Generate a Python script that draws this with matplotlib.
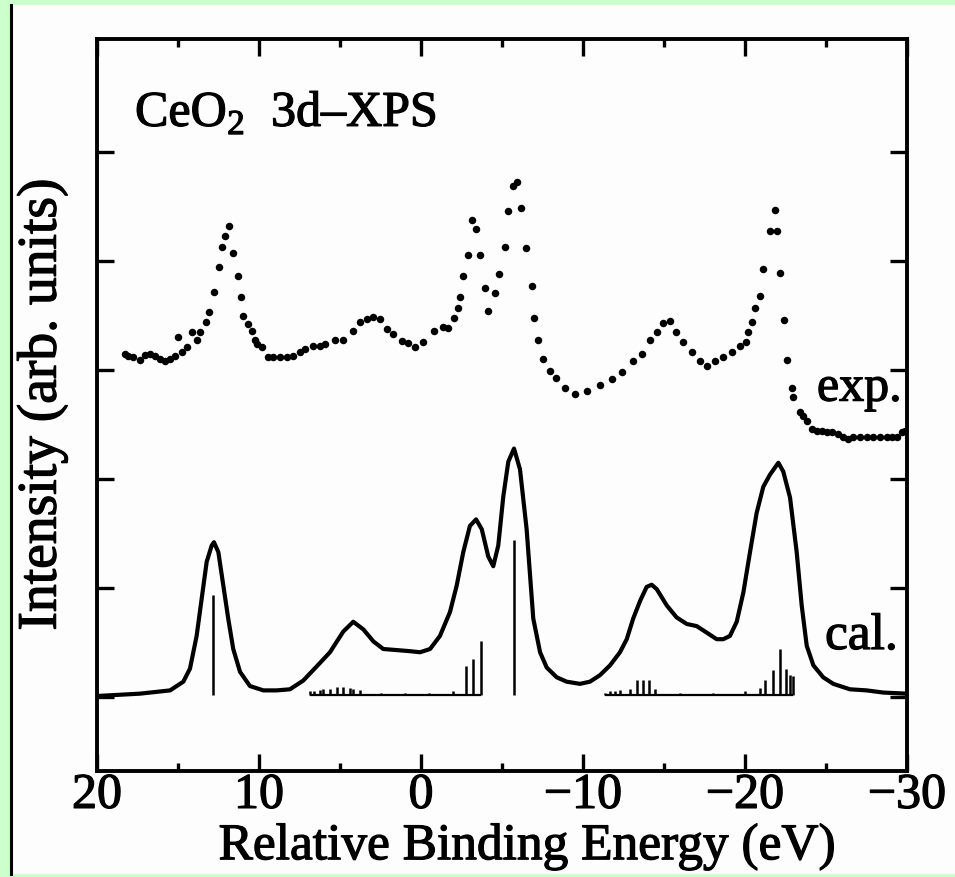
import matplotlib
matplotlib.use('Agg')
import matplotlib.pyplot as plt
import matplotlib.patheffects as pe
from matplotlib.patches import Rectangle
from matplotlib.lines import Line2D
from matplotlib.ticker import MultipleLocator

plt.rcParams['font.family'] = ['Liberation Serif', 'DejaVu Serif']
plt.rcParams['mathtext.fontset'] = 'custom'
plt.rcParams['mathtext.rm'] = 'Liberation Serif'

#%% data (relative binding energy in eV, intensity in arb. units)

exp_ev = [18.27, 18.09, 17.78, 17.35, 17.04, 16.73, 16.42, 16.11, 15.80, 15.49,
          15.19, 15.00, 14.75, 14.44, 14.14, 13.83, 13.64, 13.27, 13.09, 12.78,
          12.47, 12.28, 12.10, 11.85, 11.60, 11.30, 11.11, 10.99, 10.68, 10.43,
          10.25, 10.12, 9.81, 9.44, 9.14, 8.70, 8.27, 7.90, 7.47, 7.16,
          6.67, 6.23, 5.93, 5.31, 4.81, 4.20, 3.77, 3.33, 2.96, 2.53,
          2.10, 1.73, 1.17, 0.80, 0.37, -0.12, -0.80, -1.36, -1.67,
          -2.04, -2.28, -2.41, -2.59, -2.90, -3.15, -3.40, -3.64, -3.95, -4.14,
          -4.57, -4.81, -5.19, -5.37, -5.68, -5.93, -6.17, -6.48, -6.85, -6.98,
          -7.22, -7.53, -7.96, -8.33, -8.89, -9.51, -10.25, -11.05, -11.79, -12.41,
          -13.09, -13.64, -14.14, -14.57, -14.94, -15.37, -15.74, -16.17, -16.73, -17.22,
          -17.65, -18.15, -18.64, -19.20, -19.69, -20.06, -20.19, -20.43, -20.62, -20.93,
          -21.11, -21.54, -21.85, -21.98, -22.16, -22.41, -22.59, -22.90, -22.96, -23.40,
          -23.58, -23.83, -24.14, -24.44, -24.75, -25.06, -25.37, -25.74, -26.05, -26.36,
          -26.67, -27.10, -27.53, -27.90, -28.33, -28.77, -29.07, -29.38, -29.69, -29.88]
exp_int = [3.15, 3.13, 3.12, 3.09, 3.14, 3.15, 3.13, 3.10, 3.08, 3.10,
           3.13, 3.30, 3.17, 3.21, 3.35, 3.28, 3.35, 3.44, 3.53, 3.72,
           3.95, 4.13, 4.23, 4.32, 4.08, 3.86, 3.67, 3.50, 3.42, 3.36,
           3.28, 3.24, 3.21, 3.12, 3.12, 3.12, 3.12, 3.13, 3.17, 3.19,
           3.22, 3.22, 3.24, 3.28, 3.28, 3.36, 3.44, 3.47, 3.49, 3.47,
           3.38, 3.33, 3.27, 3.25, 3.21, 3.26, 3.36, 3.40, 3.39,
           3.48, 3.57, 3.67, 3.86, 4.06, 4.38, 4.30, 4.06, 3.75, 3.54,
           3.71, 3.88, 4.13, 4.46, 4.69, 4.73, 4.49, 4.12, 3.77, 3.48,
           3.28, 3.10, 2.99, 2.93, 2.84, 2.78, 2.81, 2.86, 2.92, 2.98,
           3.08, 3.15, 3.28, 3.35, 3.43, 3.45, 3.35, 3.26, 3.17, 3.08,
           3.04, 3.08, 3.12, 3.17, 3.22, 3.26, 3.35, 3.44, 3.57, 3.68,
           3.93, 4.28, 4.47, 4.28, 3.89, 3.46, 3.09, 2.84, 2.75, 2.62,
           2.58, 2.53, 2.46, 2.44, 2.44, 2.43, 2.43, 2.41, 2.39, 2.37,
           2.39, 2.39, 2.39, 2.39, 2.39, 2.39, 2.39, 2.39, 2.43, 2.44]

cal_ev = [19.81, 17.35, 16.11, 15.49, 14.67, 14.26, 13.85, 13.54, 13.23, 12.92,
          12.78, 12.51, 12.20, 11.90, 11.59, 11.17, 10.56, 9.73, 8.91, 8.09,
          7.27, 6.44, 5.62, 4.80, 4.18, 3.56, 2.94, 2.33, 1.50, 0.68,
          0.06, -0.56, -1.17, -1.79, -2.20, -2.61, -3.02, -3.40, -3.75, -4.15,
          -4.46, -4.77, -5.08, -5.39, -5.74, -6.11, -6.52, -6.93, -7.35, -7.76,
          -8.38, -8.99, -9.81, -10.43, -11.05, -11.67, -12.28, -12.70, -13.10, -13.52,
          -13.93, -14.24, -14.55, -15.17, -15.78, -16.40, -17.02, -17.64, -18.25, -18.66,
          -19.07, -19.49, -19.90, -20.31, -20.72, -21.13, -21.54, -22.06, -22.36, -22.78,
          -23.19, -23.50, -23.81, -24.22, -24.83, -25.45, -26.48, -27.51, -28.54, -30.00]
cal_int = [0.01, 0.03, 0.05, 0.06, 0.14, 0.26, 0.56, 0.90, 1.24, 1.39,
           1.42, 1.33, 1.02, 0.72, 0.44, 0.23, 0.10, 0.06, 0.06, 0.07,
           0.15, 0.28, 0.41, 0.60, 0.69, 0.62, 0.51, 0.44, 0.43, 0.42,
           0.41, 0.44, 0.56, 0.78, 1.02, 1.33, 1.57, 1.63, 1.54, 1.29,
           1.20, 1.39, 1.84, 2.16, 2.28, 2.09, 1.54, 0.72, 0.41, 0.27,
           0.18, 0.14, 0.12, 0.14, 0.20, 0.29, 0.41, 0.53, 0.72, 0.88,
           1.01, 1.03, 0.99, 0.84, 0.73, 0.67, 0.65, 0.59, 0.53, 0.53,
           0.56, 0.69, 0.96, 1.33, 1.69, 1.93, 2.04, 2.15, 2.07, 1.83,
           1.33, 0.84, 0.47, 0.29, 0.18, 0.12, 0.07, 0.06, 0.04, 0.03]

# final-state line spectrum
stick_ev = [12.84, 6.85, 6.60, 6.23, 6.05, 5.62, 5.19, 4.81, 4.38, 4.20, 3.77,
            2.50, 1.00, -0.50, -2.00, -2.78, -3.21, -3.70,
            -5.74,
            -11.36, -11.67, -11.98, -12.28, -12.90, -13.33, -13.70, -14.07, -14.44,
            -16.00, -18.00, -20.00, -20.90, -21.23, -21.73, -22.16, -22.53, -22.78, -22.96]
stick_int = [0.92, 0.03, 0.03, 0.04, 0.05, 0.05, 0.07, 0.07, 0.06, 0.05, 0.04,
             0.02, 0.02, 0.02, 0.03, 0.26, 0.33, 0.49,
             1.42,
             0.02, 0.03, 0.03, 0.04, 0.05, 0.14, 0.14, 0.14, 0.05,
             0.02, 0.02, 0.03, 0.06, 0.14, 0.23, 0.42, 0.24, 0.18, 0.17]
stick_base = 0.02
stick_groups = [(6.85, -3.70), (-11.36, -22.96)]

#%%

ink = [pe.withStroke(linewidth=0.9, foreground='black')]

fig = plt.figure(figsize=(9.55, 8.78), dpi=100)
fig.patch.set_facecolor('#ccffcc')
fig.patches.append(Rectangle((12/955, 3/878), 1 - 12/955, 1 - 9/878,
                             transform=fig.transFigure, facecolor='#fdfdfd',
                             edgecolor='none', zorder=-10))
fig.lines.append(Line2D([11/955, 11/955], [3/878, 1 - 6/878], transform=fig.transFigure,
                        color='black', lw=2.2, zorder=-5))

ax = fig.add_axes([97/955, 1 - 772/878, 810/955, 732/878])
ax.set_facecolor('none')

ax.plot(exp_ev, exp_int, 'o', color='black', ms=5.4, mec='none')
ax.plot(cal_ev, cal_int, color='black', lw=3.0, solid_joinstyle='round')
ax.vlines(stick_ev, stick_base, [stick_base + h for h in stick_int], color='black', lw=1.8)
for a, b in stick_groups:
    ax.hlines(stick_base, a, b, color='black', lw=1.6)

ax.set_xlim(20, -30)
ax.set_ylim(-0.68, 6.04)
ax.xaxis.set_minor_locator(MultipleLocator(5))
ax.set_xticks([20, 10, 0, -10, -20, -30])
ax.set_xticklabels(['20', '10', '0', '\u221210', '\u221220', '\u221230'])
ax.set_yticks([0, 1, 2, 3, 4, 5])
ax.set_yticklabels([])
ax.tick_params(which='both', direction='in', top=True, right=True, width=2.4)
ax.tick_params(which='major', length=12)
ax.tick_params(which='minor', length=6)
ax.tick_params(axis='x', labelsize=36, pad=1)
for lab in ax.get_xticklabels():
    lab.set_path_effects(ink)
for s in ax.spines.values():
    s.set_linewidth(2.8)

ax.set_xlabel('Relative Binding Energy (eV)', fontsize=37, path_effects=ink)
ax.xaxis.set_label_coords(0.531, -0.072)
ax.set_ylabel('Intensity (arb. units)', fontsize=40, path_effects=ink)
ax.yaxis.set_label_coords(-0.036, 0.5)

ax.text(17.65, 5.24, 'CeO$_{\\mathregular{2}}$  3d\u2013XPS', fontsize=36, va='baseline',
        path_effects=ink)
ax.text(-24.44, 2.72, 'exp.', fontsize=36, va='baseline', path_effects=ink)
ax.text(-24.94, 0.44, 'cal.', fontsize=37, va='baseline', path_effects=ink)

fig.savefig('out.png', dpi=100)
